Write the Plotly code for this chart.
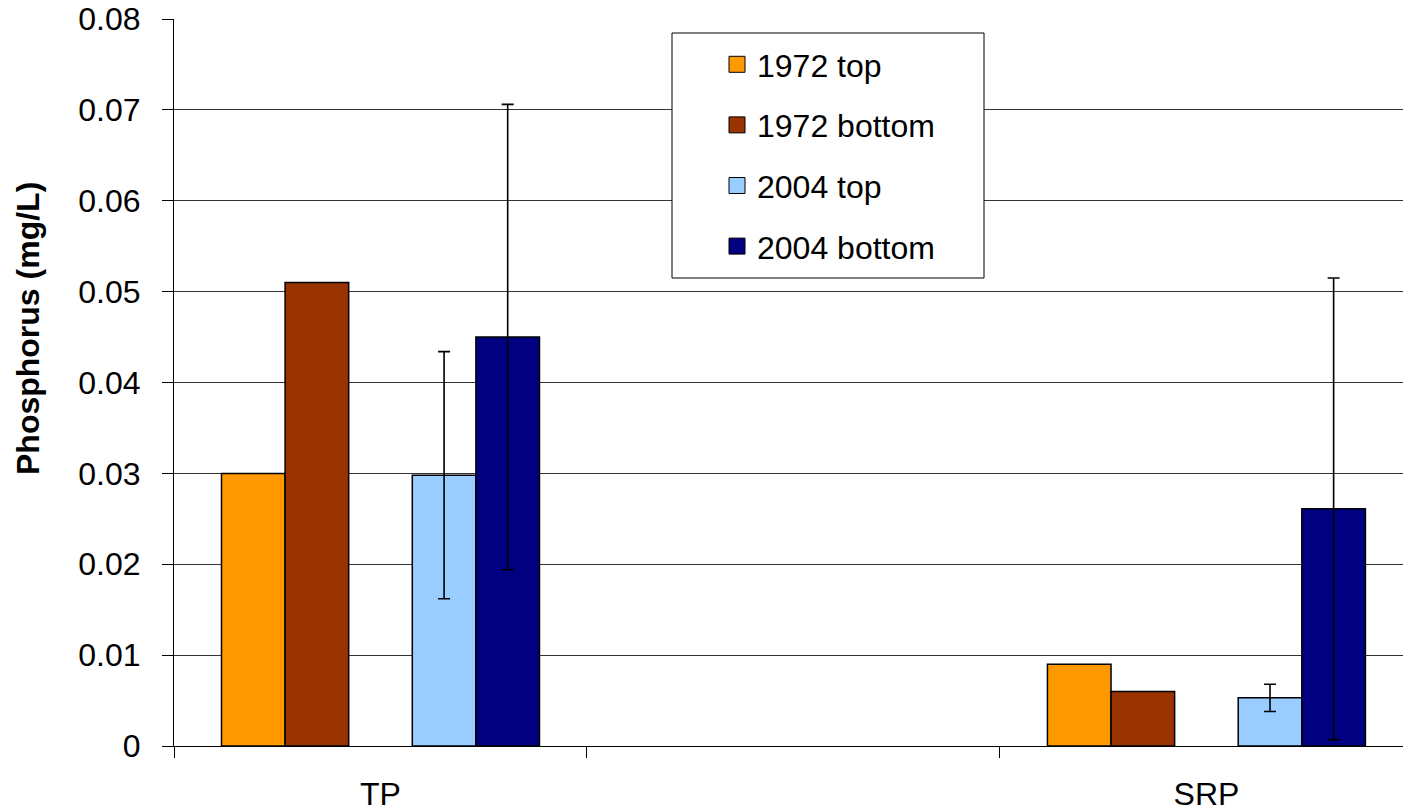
import plotly.graph_objects as go

categories = ["TP", " ", "SRP"]
series_names = ["1972 top", "1972 bottom", "2004 top", "2004 bottom"]
top_1972 = [0.030, None, 0.009]
bottom_1972 = [0.051, None, 0.006]
top_2004 = [0.0298, None, 0.0053]
bottom_2004 = [0.045, None, 0.0261]
err_top_2004 = [0.0136, None, 0.0015]
err_bottom_2004 = [0.0256, None, 0.0254]
spacer = [0, None, 0]
y_title = "Phosphorus (mg/L)"

colors = ["#FF9900", "#993300", "#99CCFF", "#000080"]
FONT = "Liberation Sans, Arial, sans-serif"

fig = go.Figure()

def add_bar(name, y, color, err=None):
    fig.add_trace(go.Bar(
        x=categories, y=y, name=name, showlegend=False,
        marker=dict(color=color, line=dict(color="#000000", width=1.5)),
        error_y=(dict(type="data", array=err, visible=True, color="#000000",
                      thickness=1.6, width=6) if err is not None else None),
        legendgroup=name,
        hoverinfo="x+y+name",
    ))

add_bar(series_names[0], top_1972, colors[0])
add_bar(series_names[1], bottom_1972, colors[1])
# empty spacer series between the 1972 and 2004 groups
fig.add_trace(go.Bar(x=categories, y=spacer, name="", showlegend=False,
                     marker=dict(color="rgba(0,0,0,0)", line=dict(width=0)),
                     hoverinfo="skip"))
add_bar(series_names[2], top_2004, colors[2], err_top_2004)
add_bar(series_names[3], bottom_2004, colors[3], err_bottom_2004)

# legend proxies (larger square swatches)
for name, color in zip(series_names, colors):
    fig.add_trace(go.Scatter(
        x=[None], y=[None], mode="markers", name=name, legendgroup=name,
        marker=dict(symbol="square", size=16, color=color,
                    line=dict(color="#000000", width=1)),
        hoverinfo="skip",
    ))

fig.update_layout(
    width=1403, height=811,
    margin=dict(l=174, r=0, t=19, b=65, autoexpand=False),
    paper_bgcolor="white", plot_bgcolor="white",
    barmode="group", bargap=0.23, bargroupgap=0,
    font=dict(family=FONT, size=32, color="#000000"),
    showlegend=True,
    legend=dict(
        x=(717 - 174) / 1229, y=(746 - 37) / 727, xanchor="left", yanchor="top",
        bgcolor="rgba(0,0,0,0)", borderwidth=0,
        font=dict(family=FONT, size=32),
        traceorder="grouped", tracegroupgap=16,
        itemwidth=30,
    ),
    shapes=[dict(type="rect", xref="paper", yref="paper", layer="above",
                 x0=(672 - 174) / 1229, x1=(984 - 174) / 1229,
                 y0=(746 - 278) / 727, y1=(746 - 33) / 727,
                 fillcolor="white", line=dict(color="#000000", width=1))],
    xaxis=dict(
        type="category", categoryorder="array", categoryarray=categories,
        range=[-0.5, 2.476],
        tickson="boundaries", ticks="outside", ticklen=11, tickcolor="#000000",
        showgrid=False, showline=True, linecolor="#000000", linewidth=1,
        tickfont=dict(size=32), zeroline=False, automargin=False,
        ticklabelstandoff=20,
    ),
    yaxis=dict(
        range=[0, 0.08], dtick=0.01, tick0=0,
        tickformat="~g",
        ticks="outside", ticklen=11, tickcolor="#000000",
        showgrid=True, gridcolor="#333333", gridwidth=1,
        showline=True, linecolor="#000000", linewidth=1,
        zeroline=False, automargin=False,
        tickfont=dict(size=32), ticklabelstandoff=15,
    ),
    annotations=[dict(
        text="<b>" + y_title + "</b>", textangle=-90,
        xref="paper", yref="paper", x=(28 - 174) / 1229, y=(746 - 329) / 727,
        xanchor="center", yanchor="middle", showarrow=False,
        font=dict(family=FONT, size=32, color="#000000"),
    )],
)

fig.write_html("out.html", config={"displayModeBar": False},
               post_script="document.body.style.margin='0px';")
